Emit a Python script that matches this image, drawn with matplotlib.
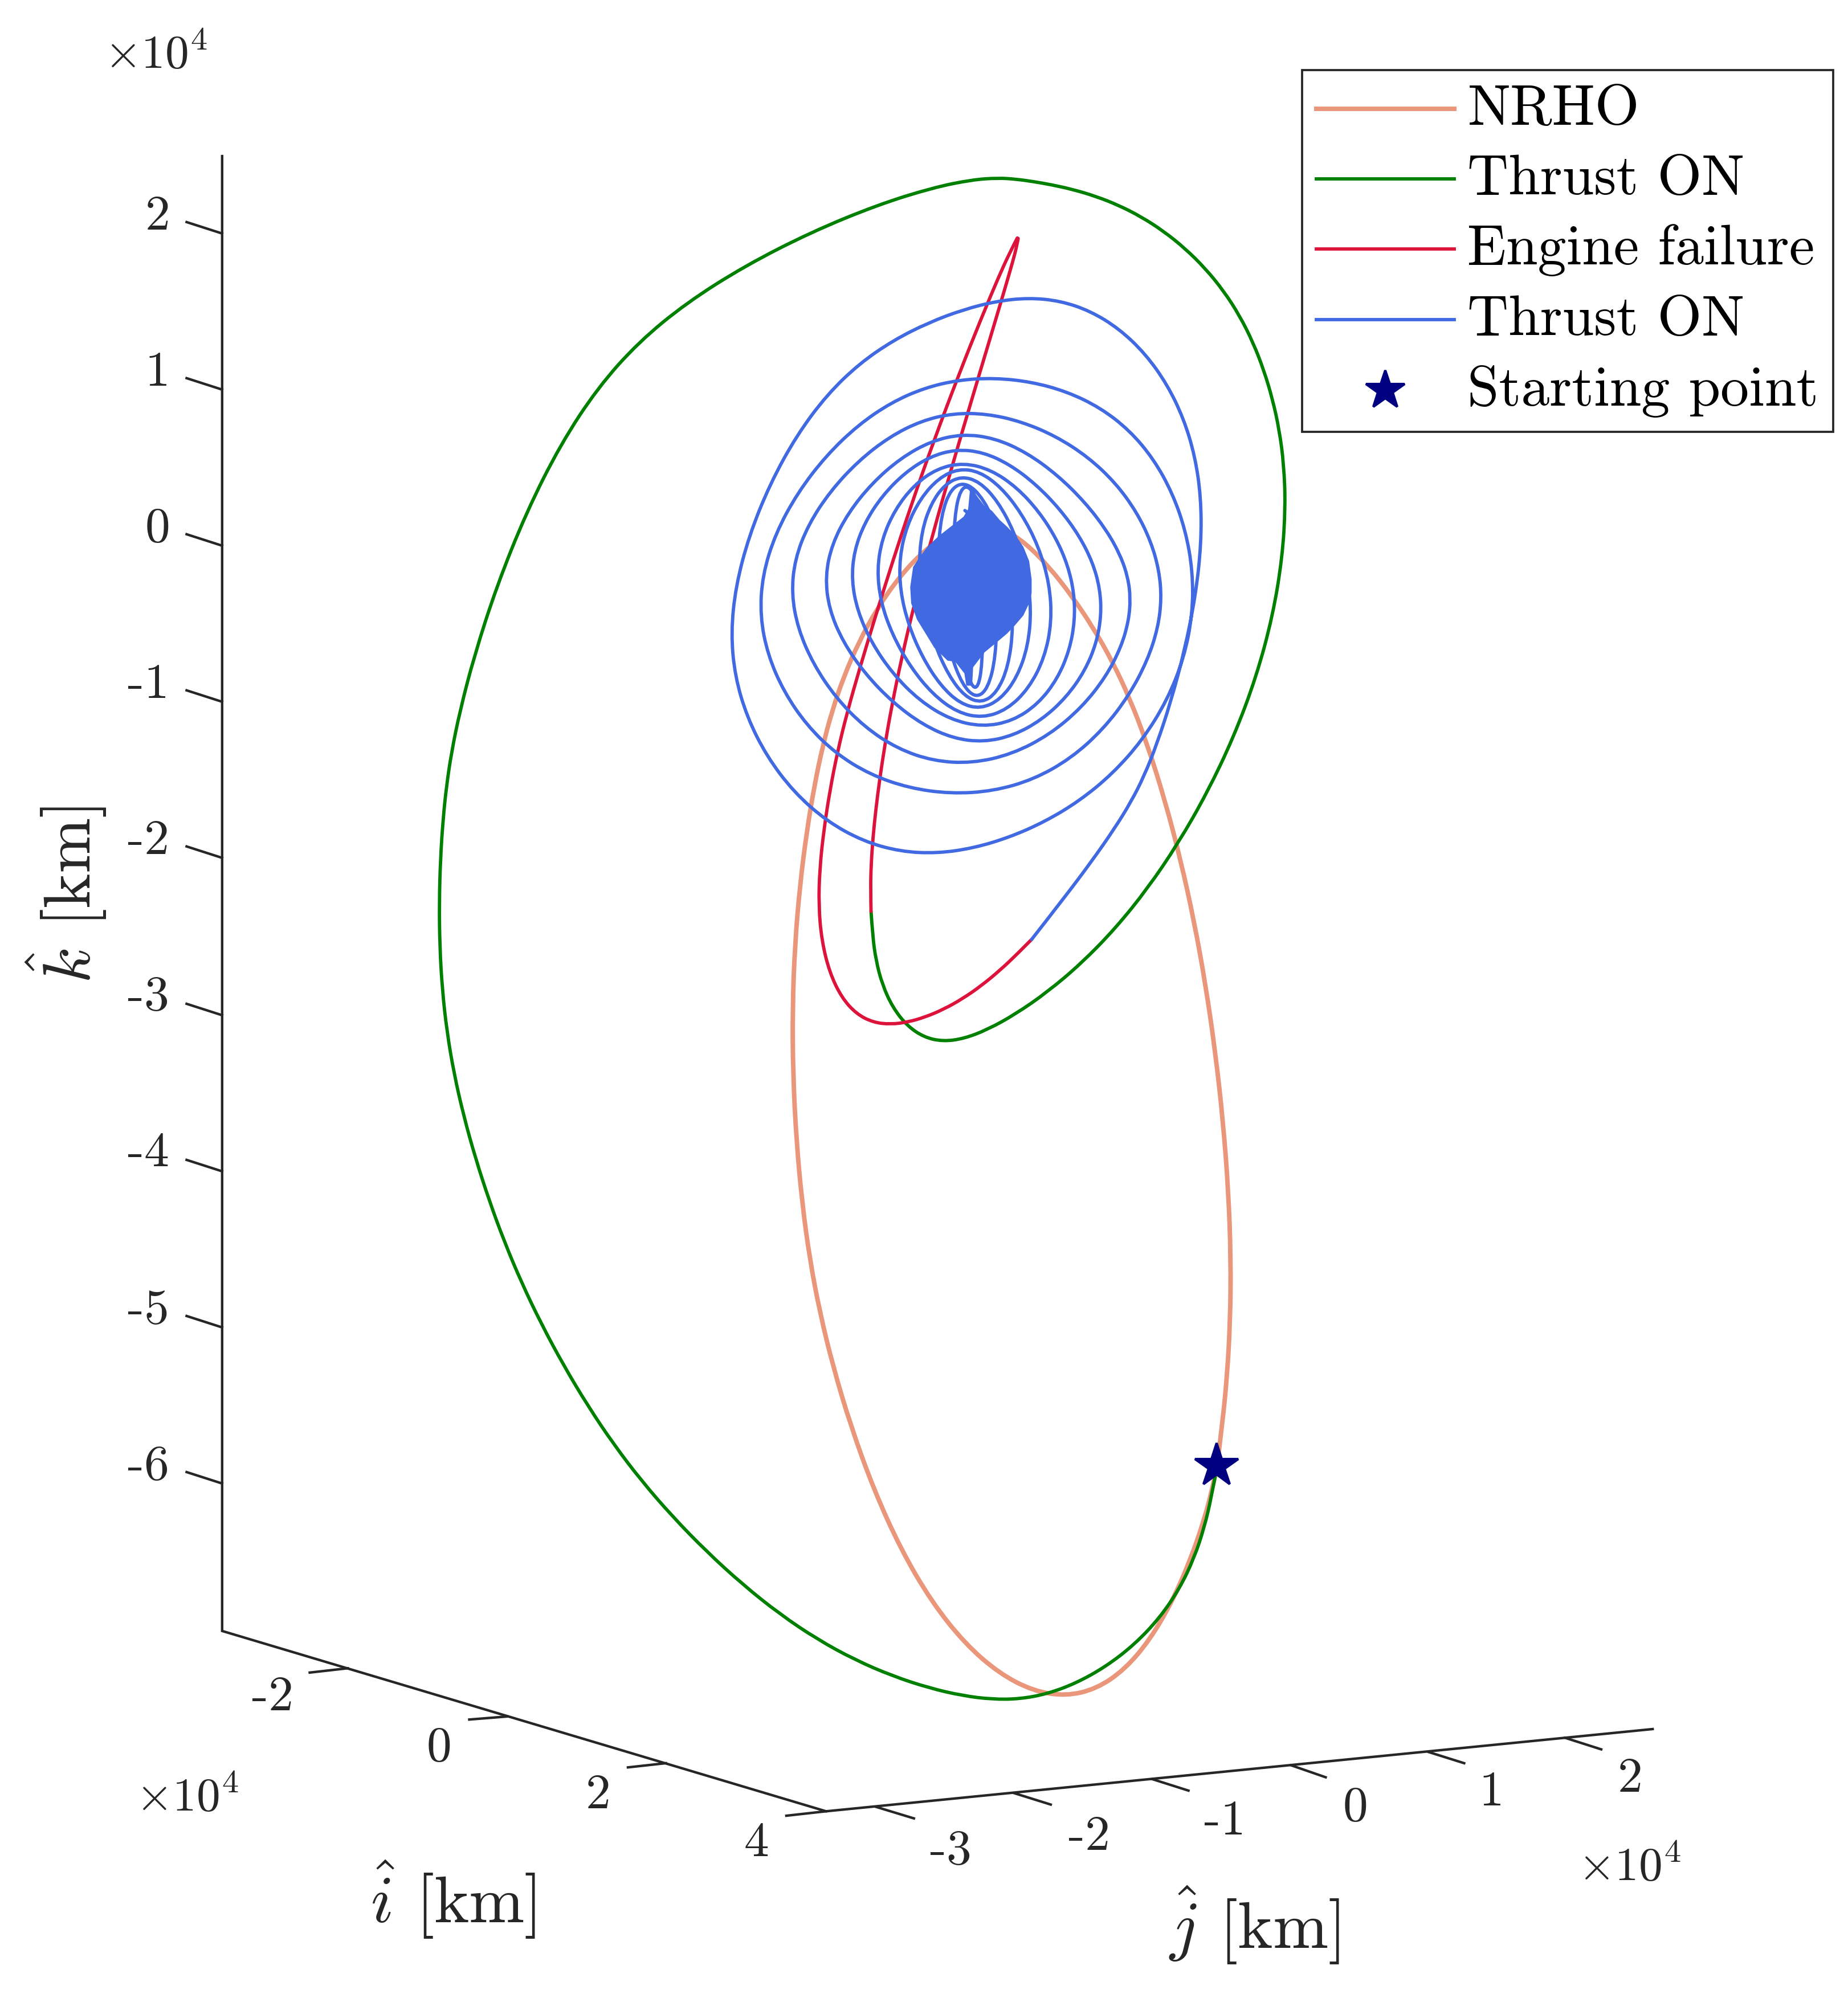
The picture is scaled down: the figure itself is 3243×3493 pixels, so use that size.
import numpy as np
import matplotlib
matplotlib.use('Agg')
import matplotlib.pyplot as plt
from matplotlib.path import Path
from matplotlib.patches import PathPatch
from matplotlib.lines import Line2D

plt.rcParams['mathtext.fontset'] = 'cm'
plt.rcParams['font.family'] = 'cmr10'
plt.rcParams['axes.unicode_minus'] = False

SCALE = 2.2275   # reference pixels per plot unit

# projected trajectories in crops of the reference
# crop origins and magnifications are given where the lists are joined below
green_bottom = [(1545, 590), (1530, 670), (1510, 750), (1480, 840), (1440, 920), (1390, 1000), (1320, 1075), (1240, 1135),
                (1150, 1185), (1070, 1210), (1000, 1220), (935, 1223), (850, 1215), (750, 1195), (650, 1160), (550, 1115),
                (445, 1060), (340, 990), (248, 915), (150, 825)]
green_gap = [(955, 1500), (830, 1340), (700, 1170), (550, 960), (420, 740), (300, 520), (175, 255)]
green_lower_left = [(225, 1430), (175, 1310), (130, 1170), (100, 1060), (75, 950), (55, 830),
                    (43, 720), (36, 600), (33, 480), (36, 360), (44, 240), (60, 130), (75, 50)]
green_upper_left = [(85, 1568), (130, 1370), (190, 1170), (270, 970), (380, 760), (480, 630), (595, 505), (700, 415),
                    (850, 310), (1050, 195), (1260, 115), (1400, 78), (1500, 63)]
green_top = [(0, 97), (60, 97), (150, 103), (250, 118), (350, 138), (450, 170), (560, 215), (660, 265), (760, 330),
             (860, 410), (950, 500), (1040, 610), (1110, 715), (1170, 840), (1220, 970), (1260, 1110), (1290, 1260),
             (1305, 1400), (1313, 1568)]
green_link = [(2250, 980), (2235, 1080), (2205, 1190)]
green_end = [(1272, 0), (1200, 135), (1120, 285), (1040, 400), (960, 510), (860, 610), (760, 695), (680, 745),
             (600, 790), (530, 815), (490, 823), (430, 815), (380, 785), (340, 735), (310, 670), (295, 600), (285, 530), (280, 470)]

red_start = [(280, 470), (277, 420), (280, 340), (285, 270), (295, 180), (308, 90)]
red_rise = [(470, 1440), (500, 1270), (530, 1130), (560, 1000), (620, 760), (680, 560), (740, 360), (800, 150)]
red_tip_right = [(40, 580), (70, 470), (90, 400), (96, 362)]
red_tip_left = [(92, 360), (60, 410), (0, 565)]
red_fall = [(790, 55), (690, 300), (620, 490), (560, 660), (500, 850), (450, 1000), (400, 1180), (350, 1340)]
red_end = [(195, 0), (170, 130), (150, 260), (140, 350), (137, 450), (145, 540), (165, 640), (200, 710), (240, 750),
           (290, 773), (335, 778), (380, 772), (430, 758), (480, 738), (530, 712), (585, 675), (640, 625), (680, 590), (722, 547)]

blue_start = [(722, 547), (800, 460), (880, 350), (960, 220), (1030, 90)]
blue_ring0 = [(1225, 1568), (1290, 1440), (1350, 1270), (1400, 1100), (1425, 950), (1440, 780), (1435, 650), (1415, 530),
              (1385, 420), (1340, 320), (1270, 210), (1190, 130), (1100, 85), (1000, 58), (910, 47), (830, 52), (720, 80),
              (600, 125), (500, 180), (400, 250), (300, 340), (220, 440), (130, 600), (60, 780), (20, 950), (12, 1060),
              (25, 1180), (65, 1300)]
blue_ring0_bottom = [(0, 55), (60, 130), (150, 220), (280, 280), (370, 298), (452, 302), (560, 290), (660, 260), (760, 215),
                     (850, 160), (930, 95)]
blue_rings = [(1261, 1394), (1340, 1270), (1390, 1130), (1410, 1000), (1405, 880), (1390, 760), (1350, 640), (1290, 530),
              (1220, 450), (1130, 380), (1040, 335), (920, 300), (800, 290), (700, 298), (600, 325), (500, 365), (400, 430),
              (300, 520), (220, 630), (140, 770), (100, 910), (100, 1000), (125, 1120), (175, 1240), (250, 1350), (330, 1430),
              (420, 1490), (540, 1530), (700, 1548), (800, 1540), (920, 1510), (1040, 1450), (1140, 1360), (1220, 1260),
              (1280, 1120), (1300, 1050), (1312, 960), (1306, 880), (1285, 800), (1240, 690), (1180, 610), (1100, 530), (1000, 465),
              (880, 420), (780, 402), (680, 405), (600, 420), (500, 465), (400, 530), (310, 640), (240, 740), (205, 860),
              (200, 930), (215, 1040), (260, 1150), (330, 1270), (420, 1350), (520, 1410), (620, 1445), (740, 1455),
              (860, 1435), (970, 1385), (1080, 1290), (1160, 1180), (1190, 1100), (1210, 1030), (1216, 960), (1208, 890), (1190, 830),
              (1160, 770), (1090, 670), (1000, 580), (900, 510), (800, 475), (720, 465), (620, 480), (530, 530),
              (440, 610), (370, 710), (315, 800), (298, 890), (310, 980), (350, 1090), (420, 1190), (500, 1270), (600, 1340),
              (700, 1385), (760, 1392), (860, 1375), (950, 1330), (1040, 1250), (1085, 1180), (1115, 1090), (1128, 1005), (1125, 930),
              (1105, 850), (1075, 780), (1010, 690), (930, 610), (850, 550), (770, 518), (700, 510), (620, 525), (540, 575),
              (470, 650), (415, 740), (385, 820), (382, 900), (395, 990), (440, 1090), (500, 1180), (580, 1260), (680, 1335),
              (770, 1350), (860, 1335), (950, 1270), (1000, 1200), (1035, 1110), (1050, 1020), (1045, 940), (1028, 860),
              (1000, 790), (945, 700), (880, 630), (800, 565), (710, 540), (640, 560), (570, 620), (510, 700),
              (470, 790), (455, 870), (465, 960), (500, 1060), (555, 1160), (630, 1250), (700, 1305), (765, 1318), (840, 1300),
              (915, 1230), (965, 1130), (982, 1020), (975, 920),
              (945, 810), (890, 700), (820, 620), (760, 580), (705, 565), (650, 590), (590, 660), (540, 750), (520, 840),
              (525, 930), (550, 1030), (595, 1130), (650, 1220), (710, 1280), (760, 1295), (820, 1270), (880, 1190), (915, 1090),
              (922, 990), (905, 880), (870, 770),
              (815, 660), (760, 600), (712, 585), (665, 615), (620, 690), (590, 770), (578, 850), (590, 950), (625, 1090),
              (680, 1200), (725, 1260), (760, 1270), (810, 1240), (855, 1150), (870, 1050),
              (860, 950), (830, 750), (770, 635), (725, 603), (680, 640), (645, 720), (635, 800), (650, 1000), (680, 1130),
              (715, 1225), (745, 1250), (785, 1220), (820, 1130), (830, 1070),
              (800, 780), (760, 650), (735, 625), (710, 650), (690, 720), (680, 800), (690, 1000), (725, 1200), (738, 1235),
              (760, 1200), (775, 1130), (775, 1100), (770, 900), (745, 680), (738, 628), (720, 690)]

# filled core where the spiral merges
core = [(610, 310), (640, 345), (680, 395), (720, 420), (760, 465), (800, 500), (850, 550), (885, 600), (915, 670), (928, 760),
        (928, 830), (915, 880), (885, 940), (840, 990), (800, 1030), (750, 1070), (680, 1125), (660, 1150), (620, 1200),
        (615, 1290), (590, 1290), (580, 1230), (530, 1170), (490, 1165), (420, 1100), (385, 1045), (330, 960), (300, 880),
        (295, 800), (310, 700), (345, 650), (385, 600), (440, 550), (500, 505), (575, 450), (600, 410)]

nrho_from_star = [(1545, 590), (1560, 490), (1568, 350)]
nrho_right = [(1270, 1568), (1272, 1450), (1262, 1230), (1245, 1040), (1225, 860), (1200, 680), (1170, 510), (1130, 320), (1090, 175), (1035, 0)]
nrho_top = [(1220, 1260), (1170, 1160), (1120, 1070), (1050, 960), (965, 850), (900, 795), (840, 760), (760, 730), (690, 750),
            (600, 815), (520, 890), (450, 1000), (400, 1090), (350, 1210), (310, 1320)]
nrho_left = [(155, 0), (125, 130), (105, 250), (85, 400), (72, 560), (65, 750), (65, 900), (75, 1100), (95, 1300), (120, 1450)]
nrho_bottom = [(450, 130), (490, 300), (540, 470), (600, 650), (680, 820), (760, 950), (850, 1070), (950, 1150), (1040, 1195),
               (1130, 1212), (1210, 1195), (1290, 1140), (1360, 1060), (1420, 960), (1470, 850), (1510, 730), (1540, 610), (1545, 590)]

start_x = [958.5]
start_y = [1155]

k_ticks = ['2', '1', '0', '-1', '-2', '-3', '-4', '-5', '-6']
k_tick_xy = [(124, 171), (124, 294), (124, 417), (117, 540), (117, 663), (117, 786), (117, 909), (117, 1033), (117, 1156)]
k_tick_y = [184, 307, 430, 553, 676, 800, 923, 1046, 1169]

i_ticks = ['-2', '0', '2', '4']
i_tick_xy = [(215, 1338), (346, 1378), (471, 1415), (596, 1453)]
i_tick_a = [(274, 1314.6), (399.6, 1352.6), (524.6, 1389.4), (650.8, 1427.3)]
i_tick_b = [(244, 1318), (369.7, 1355), (494.7, 1392.7), (619.5, 1430.8)]

j_ticks = ['-3', '-2', '-1', '0', '1', '2']
j_tick_xy = [(749, 1459), (858, 1448), (965, 1436), (1068, 1425), (1175, 1413), (1284, 1402)]
j_tick_a = [(690.4, 1423.9), (799, 1413), (907.9, 1402), (1017, 1391), (1125.5, 1380.6), (1233, 1369.4)]
j_tick_b = [(720, 1432.9), (827.8, 1422), (936.3, 1411), (1044.4, 1400.5), (1153.5, 1389.4), (1261.5, 1378.5)]


def crop(pts, x0, y0, f):
    # crop pixels -> plot units
    return (np.array(pts, dtype=float) / f + [x0, y0]) / SCALE


def denoise(pts, passes=10):
    # takes the hand-tracing jitter out without shrinking the loops, ends stay put
    pts = pts.copy()
    for _ in range(passes):
        for w in (0.5, -0.53):
            lap = (pts[:-2] + pts[2:]) / 2 - pts[1:-1]
            pts[1:-1] += w * lap
    return pts


def smooth_line(ax, pts, **kw):
    # quadratic segments through the midpoints of the traced points
    verts = [pts[0]]
    codes = [Path.MOVETO]
    for i in range(1, len(pts) - 1):
        end = pts[i + 1] if i == len(pts) - 2 else (pts[i] + pts[i + 1]) / 2
        verts += [pts[i], end]
        codes += [Path.CURVE3, Path.CURVE3]
    ax.add_patch(PathPatch(Path(verts, codes), fill=False, capstyle='round', joinstyle='round', **kw))


F1000 = 1568 / 1000
F900 = 1568 / 900
F600 = 1568 / 600

green = np.vstack([crop(green_bottom, 1150, 2200, F1000),
                   crop(green_gap, 850, 2150, 3.0),
                   crop(green_lower_left, 750, 1280, F1000),
                   crop(green_upper_left, 750, 280, F1000),
                   crop(green_top, 1750, 280, F600),
                   crop(green_link, 0, 0, 1),
                   crop(green_end, 1350, 1300, F1000)])
red_up = np.vstack([crop(red_start, 1350, 1300, F1000),
                    crop(red_rise, 1280, 500, F900),
                    crop(red_tip_right, 1750, 280, F600)])
red_down = np.vstack([crop(red_tip_left, 1750, 280, F600),
                      crop(red_fall, 1280, 500, F900),
                      crop(red_end, 1350, 1300, F1000)])
blue = np.vstack([crop(blue_start, 1350, 1300, F1000),
                  crop(blue_ring0, 1280, 500, F900),
                  crop(blue_ring0_bottom, 1350, 1300, F1000),
                  crop(blue_rings, 1280, 500, F900)])
nrho = np.vstack([crop(nrho_from_star, 1150, 2200, F1000),
                  crop(nrho_right, 1350, 1300, F1000),
                  crop(nrho_top, 1280, 500, F900),
                  crop(nrho_left, 1350, 1300, F1000),
                  crop(nrho_bottom, 1150, 2200, F1000)])
core_xy = (np.array(core, dtype=float) / [3.0, 2.851] + [1500, 750]) / SCALE

fig = plt.figure(figsize=(3243 / 300, 3493 / 300), dpi=300)
ax = fig.add_axes([0, 0, 1, 1])
ax.set_xlim(0, 3243 / SCALE)
ax.set_ylim(3493 / SCALE, 0)
ax.axis('off')

axc = '#262626'
ax.plot([175, 175, 650.8, 1302], [123, 1285.2, 1427.3, 1362.5], color=axc, lw=1.05, solid_joinstyle='miter')
for y in k_tick_y:
    ax.plot([147, 175], [y - 9, y], color=axc, lw=1.05)
for a, b in list(zip(i_tick_a, i_tick_b)) + list(zip(j_tick_a, j_tick_b)):
    ax.plot([a[0], b[0]], [a[1], b[1]], color=axc, lw=1.05)

for labels, pos in [(k_ticks, k_tick_xy), (i_ticks, i_tick_xy), (j_ticks, j_tick_xy)]:
    for s, (x, y) in zip(labels, pos):
        ax.text(x, y, s, fontsize=21, color=axc, ha='center', va='center')

for x, y in [(123, 44), (147.5, 1417), (1284, 1472)]:
    ax.text(x, y, r'$\times 10^4$', fontsize=20, color=axc, ha='center', va='center')

ax.text(52, 705, r'$\hat{k}$ [km]', fontsize=28, color=axc, rotation=90, ha='center', va='center')
ax.text(357, 1497, r'$\hat{i}$ [km]', fontsize=28, color=axc, ha='center', va='center')
ax.text(988, 1517, r'$\hat{j}$ [km]', fontsize=28, color=axc, ha='center', va='center')

smooth_line(ax, denoise(nrho, 16), edgecolor='#E9967A', lw=1.9, zorder=3)
smooth_line(ax, denoise(green, 16), edgecolor='#008000', lw=1.4, zorder=4)
smooth_line(ax, denoise(red_up), edgecolor='#DC143C', lw=1.4, zorder=5)
smooth_line(ax, denoise(red_down), edgecolor='#DC143C', lw=1.4, zorder=5)
smooth_line(ax, denoise(blue, 20), edgecolor='#4169E1', lw=1.4, zorder=6)
ax.fill(core_xy[:, 0], core_xy[:, 1], color='#4169E1', lw=0.5, zorder=6)
ax.plot(start_x, start_y, linestyle='none', marker='*', ms=19, color='#000080', zorder=7)

handles = [Line2D([], [], color='#E9967A', lw=1.9),
           Line2D([], [], color='#008000', lw=1.4),
           Line2D([], [], color='#DC143C', lw=1.4),
           Line2D([], [], color='#4169E1', lw=1.4),
           Line2D([], [], color='#000080', linestyle='none', marker='*', ms=17)]
names = ['NRHO', 'Thrust ON', 'Engine failure', 'Thrust ON', 'Starting point']
leg = ax.legend(handles, names, loc='upper right', bbox_to_anchor=(1444, 55.3), bbox_transform=ax.transData,
                fontsize=24, frameon=True, fancybox=False, framealpha=1, edgecolor=axc, borderaxespad=0,
                handlelength=2.42, handletextpad=0.235, labelspacing=0.335, borderpad=0.25)
leg.get_frame().set_linewidth(0.9)
leg.set_zorder(10)
# the lines sit a little lower against the text in the original
for line in leg.get_lines():
    line.set_ydata(np.array(line.get_ydata()) - 1.9)

fig.savefig('out.png', dpi=300)
plt.close()
